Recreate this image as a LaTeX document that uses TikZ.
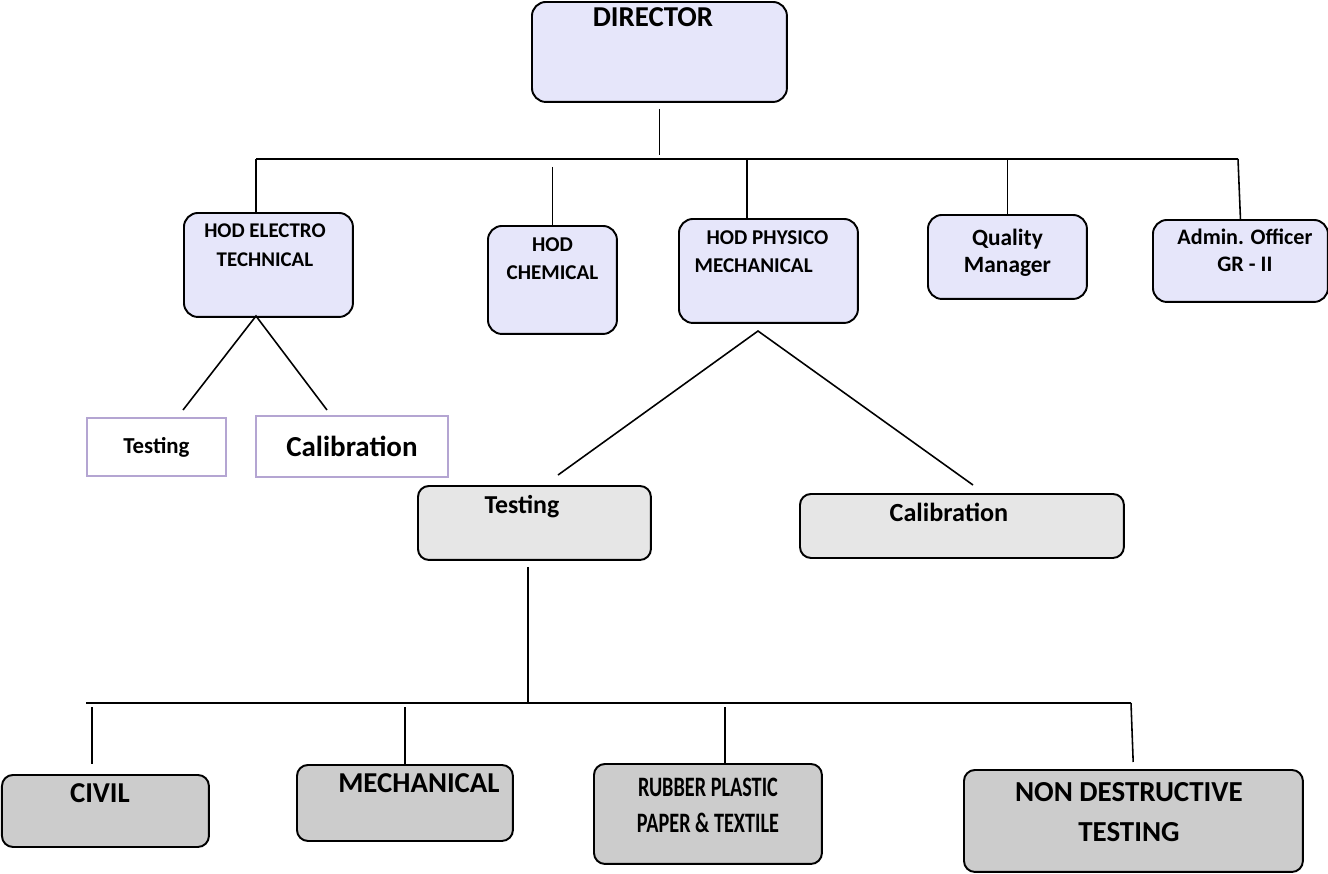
\documentclass[tikz,border=0pt]{standalone}
\usepackage{graphicx}
\usepackage{fontspec}
\setmainfont{Carlito}
\definecolor{lav}{RGB}{230,230,250}
\definecolor{lgray}{RGB}{230,230,230}
\definecolor{dgray}{RGB}{204,204,204}
\definecolor{lilac}{RGB}{180,165,210}
\newcommand{\fsz}[2]{\fontsize{#1}{#2}\selectfont\bfseries}
\newcommand{\narrow}[1]{\scalebox{0.72}[1]{#1}}
\tikzset{
  box/.style={draw, line width=1.1pt, rounded corners=0.28cm, anchor=north west, inner sep=0pt},
  topbox/.style={box, fill=lav},
  midbox/.style={box, fill=lgray, rounded corners=0.22cm},
  lowbox/.style={box, fill=dgray, rounded corners=0.22cm},
  plainbox/.style={draw=lilac, line width=1.1pt, anchor=north west, inner sep=0pt},
  lbl/.style={anchor=north, inner sep=0pt, align=center},
  link/.style={line width=0.9pt}
}
\begin{document}
\begin{tikzpicture}[x=0.02cm, y=-0.02cm]
\useasboundingbox (0,0) rectangle (1328,873);

% top
\node[topbox, minimum width=5.10cm, minimum height=2.00cm,
  label={[lbl, font=\fsz{16.4}{20}, xshift=-0.13cm, yshift=-0.12cm]north:DIRECTOR}] (dir) at (531,1) {};

% heads
\node[topbox, minimum width=3.38cm, minimum height=2.08cm,
  label={[lbl, font=\fsz{11.9}{16.6}, xshift=-0.07cm, yshift=-0.22cm]north:HOD ELECTRO\\TECHNICAL}] (het) at (183,212) {};
\node[topbox, minimum width=2.58cm, minimum height=2.16cm,
  label={[lbl, font=\fsz{12}{16.4}, yshift=-0.24cm]north:HOD\\CHEMICAL}] (hch) at (487,225) {};
\node[topbox, minimum width=3.58cm, minimum height=2.08cm,
  label={[lbl, align=left, font=\fsz{12}{16.4}, xshift=-0.14cm, yshift=-0.24cm]north:\hspace*{0.24cm}HOD PHYSICO\\MECHANICAL}] (hpm) at (678,218) {};
\node[topbox, minimum width=3.18cm, minimum height=1.68cm,
  label={[lbl, font=\fsz{13.3}{15.3}, yshift=-0.30cm]north:Quality\\Manager}] (qm) at (927,214) {};
\node[topbox, minimum width=3.50cm, minimum height=1.64cm,
  label={[lbl, font=\fsz{12.6}{15.3}, xshift=0.09cm, yshift=-0.20cm]north:Admin. Officer\\GR - II}] (adm) at (1152,219) {};

% electro technical
\node[plainbox, minimum width=2.78cm, minimum height=1.16cm, font=\fsz{13}{15}] (etT) at (86,417) {Testing};
\node[plainbox, minimum width=3.84cm, minimum height=1.22cm, font=\fsz{16.5}{19}] (etC) at (255,415) {Calibration};

% physico mechanical
\node[midbox, minimum width=4.66cm, minimum height=1.48cm,
  label={[lbl, font=\fsz{14.7}{17}, xshift=-0.25cm, yshift=-0.20cm]north:Testing}] (pmT) at (417,485) {};
\node[midbox, minimum width=6.48cm, minimum height=1.28cm,
  label={[lbl, font=\fsz{14.9}{17}, xshift=-0.26cm, yshift=-0.20cm]north:Calibration}] (pmC) at (799,493) {};

% labs
\node[lowbox, minimum width=4.14cm, minimum height=1.44cm,
  label={[lbl, font=\fsz{16.4}{19}, xshift=-0.11cm, yshift=-0.18cm]north:CIVIL}] (civ) at (1,774) {};
\node[lowbox, minimum width=4.32cm, minimum height=1.52cm,
  label={[lbl, font=\fsz{16.4}{19}, xshift=0.28cm, yshift=-0.18cm]north:MECHANICAL}] (mec) at (296,764) {};
\node[lowbox, minimum width=4.56cm, minimum height=2.00cm,
  label={[lbl, font=\fsz{16}{20.4}, yshift=-0.30cm]north:\narrow{RUBBER PLASTIC}\\\narrow{PAPER \& TEXTILE}}] (rub) at (593,763) {};
\node[lowbox, minimum width=6.78cm, minimum height=2.04cm,
  label={[lbl, font=\fsz{16.5}{22.7}, xshift=-0.09cm, yshift=-0.26cm]north:NON DESTRUCTIVE\\TESTING}] (ndt) at (963,769) {};

% upper bus
\coordinate (tbL) at (256,159);
\coordinate (tbR) at (1238,159);
\coordinate (pmTop) at (747,159);
\draw[link] (tbL) -- (tbR);
\draw[link, shorten <=3.4pt, shorten >=2.3pt] (dir.south) -- (dir.south |- tbL);
\draw[link] (tbL) -- (tbL |- het.north);
\draw[link, shorten <=4.5pt] (hch.north |- tbL) -- (hch.north);
\draw[link] (pmTop) -- (pmTop |- hpm.north);
\draw[link] (qm.north |- tbL) -- (qm.north);
\draw[link] (tbR) -- (adm.north);

% branches
\coordinate (etA) at (256,316);
\coordinate (etL) at (183,410);
\coordinate (etR) at (327,410);
\draw[link] (etL) -- (etA) -- (etR);
\coordinate (pmA) at (758,331);
\coordinate (pmL) at (558,475);
\coordinate (pmR) at (973,485);
\draw[link] (pmL) -- (pmA) -- (pmR);

% lower bus
\coordinate (bbL) at (86,703);
\coordinate (bbR) at (1131,703);
\coordinate (tsB) at (528,703);
\coordinate (cvB) at (92,703);
\coordinate (rbB) at (725,703);
\draw[link] (bbL) -- (bbR);
\draw[link, shorten <=3.4pt] (pmT.south -| tsB) -- (tsB);
\draw[link, shorten <=2.3pt, shorten >=5.7pt] (cvB) -- (cvB |- civ.north);
\draw[link, shorten <=2.3pt] (mec.north |- bbL) -- (mec.north);
\draw[link, shorten <=2.3pt] (rbB) -- (rbB |- rub.north);
\draw[link, shorten >=4pt] (bbR) -- (ndt.north);
\end{tikzpicture}
\end{document}
